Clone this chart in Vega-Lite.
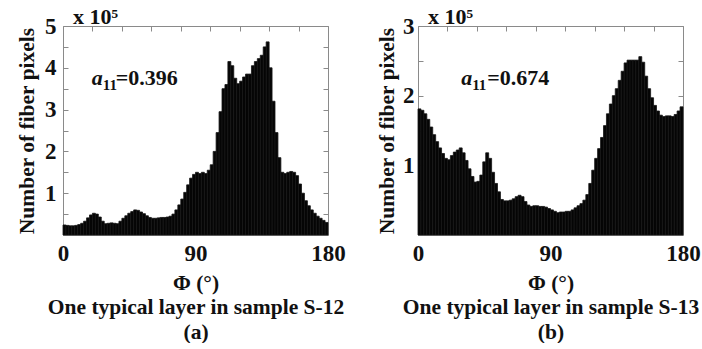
{
  "$schema": "https://vega.github.io/schema/vega-lite/v6.json",
  "background": "white",
  "padding": {"left": 16, "top": 5, "right": 0, "bottom": 0},
  "spacing": 30,
  "config": {
    "view": {"stroke": "#8a8a8a", "strokeWidth": 1},
    "axis": {"grid": false, "domain": false, "tickColor": "#8a8a8a", "tickWidth": 1, "labelFont": "Liberation Serif", "labelFontWeight": "bold", "labelFontSize": 23, "labelColor": "#111", "titleFont": "Liberation Serif", "titleFontWeight": "bold", "titleFontSize": 21.5, "titleColor": "#111", "labelOverlap": false, "labelFlush": false},
    "title": {"font": "Liberation Serif", "fontWeight": "bold", "fontSize": 22, "color": "#111"},
    "text": {"font": "Liberation Serif", "fontWeight": "bold", "color": "#111"}
  },
  "datasets": {
    "s12": [
      {"p0":0,"p1":2,"n":0.24},{"p0":2,"p1":4,"n":0.23},{"p0":4,"p1":6,"n":0.22},{"p0":6,"p1":8,"n":0.22},{"p0":8,"p1":10,"n":0.23},
      {"p0":10,"p1":12,"n":0.25},{"p0":12,"p1":14,"n":0.28},{"p0":14,"p1":16,"n":0.33},{"p0":16,"p1":18,"n":0.41},{"p0":18,"p1":20,"n":0.48},
      {"p0":20,"p1":22,"n":0.52},{"p0":22,"p1":24,"n":0.50},{"p0":24,"p1":26,"n":0.43},{"p0":26,"p1":28,"n":0.33},{"p0":28,"p1":30,"n":0.27},
      {"p0":30,"p1":32,"n":0.28},{"p0":32,"p1":34,"n":0.29},{"p0":34,"p1":36,"n":0.28},{"p0":36,"p1":38,"n":0.27},{"p0":38,"p1":40,"n":0.33},
      {"p0":40,"p1":42,"n":0.40},{"p0":42,"p1":44,"n":0.46},{"p0":44,"p1":46,"n":0.52},{"p0":46,"p1":48,"n":0.56},{"p0":48,"p1":50,"n":0.60},
      {"p0":50,"p1":52,"n":0.59},{"p0":52,"p1":54,"n":0.55},{"p0":54,"p1":56,"n":0.51},{"p0":56,"p1":58,"n":0.46},{"p0":58,"p1":60,"n":0.42},
      {"p0":60,"p1":62,"n":0.40},{"p0":62,"p1":64,"n":0.40},{"p0":64,"p1":66,"n":0.41},{"p0":66,"p1":68,"n":0.42},{"p0":68,"p1":70,"n":0.42},
      {"p0":70,"p1":72,"n":0.43},{"p0":72,"p1":74,"n":0.45},{"p0":74,"p1":76,"n":0.50},{"p0":76,"p1":78,"n":0.60},{"p0":78,"p1":80,"n":0.72},
      {"p0":80,"p1":82,"n":0.86},{"p0":82,"p1":84,"n":1.02},{"p0":84,"p1":86,"n":1.20},{"p0":86,"p1":88,"n":1.36},{"p0":88,"p1":90,"n":1.45},
      {"p0":90,"p1":92,"n":1.50},{"p0":92,"p1":94,"n":1.47},{"p0":94,"p1":96,"n":1.50},{"p0":96,"p1":98,"n":1.47},{"p0":98,"p1":100,"n":1.55},
      {"p0":100,"p1":102,"n":1.68},{"p0":102,"p1":104,"n":2.00},{"p0":104,"p1":106,"n":2.45},{"p0":106,"p1":108,"n":2.95},{"p0":108,"p1":110,"n":3.50},
      {"p0":110,"p1":112,"n":3.60},{"p0":112,"p1":114,"n":4.15},{"p0":114,"p1":116,"n":4.05},{"p0":116,"p1":118,"n":3.75},{"p0":118,"p1":120,"n":3.62},
      {"p0":120,"p1":122,"n":3.68},{"p0":122,"p1":124,"n":3.78},{"p0":124,"p1":126,"n":3.85},{"p0":126,"p1":128,"n":3.85},{"p0":128,"p1":130,"n":4.05},
      {"p0":130,"p1":132,"n":4.15},{"p0":132,"p1":134,"n":4.22},{"p0":134,"p1":136,"n":4.30},{"p0":136,"p1":138,"n":4.50},{"p0":138,"p1":140,"n":4.62},
      {"p0":140,"p1":142,"n":4.00},{"p0":142,"p1":144,"n":3.20},{"p0":144,"p1":146,"n":2.45},{"p0":146,"p1":148,"n":1.85},{"p0":148,"p1":150,"n":1.50},
      {"p0":150,"p1":152,"n":1.47},{"p0":152,"p1":154,"n":1.50},{"p0":154,"p1":156,"n":1.52},{"p0":156,"p1":158,"n":1.50},{"p0":158,"p1":160,"n":1.42},
      {"p0":160,"p1":162,"n":1.22},{"p0":162,"p1":164,"n":1.00},{"p0":164,"p1":166,"n":0.82},{"p0":166,"p1":168,"n":0.70},{"p0":168,"p1":170,"n":0.60},
      {"p0":170,"p1":172,"n":0.52},{"p0":172,"p1":174,"n":0.45},{"p0":174,"p1":176,"n":0.40},{"p0":176,"p1":178,"n":0.35},{"p0":178,"p1":180,"n":0.30}
    ],
    "s13": [
      {"p0":0,"p1":2,"n":1.81},{"p0":2,"p1":4,"n":1.79},{"p0":4,"p1":6,"n":1.74},{"p0":6,"p1":8,"n":1.66},{"p0":8,"p1":10,"n":1.55},
      {"p0":10,"p1":12,"n":1.44},{"p0":12,"p1":14,"n":1.34},{"p0":14,"p1":16,"n":1.25},{"p0":16,"p1":18,"n":1.17},{"p0":18,"p1":20,"n":1.10},
      {"p0":20,"p1":22,"n":1.08},{"p0":22,"p1":24,"n":1.14},{"p0":24,"p1":26,"n":1.19},{"p0":26,"p1":28,"n":1.22},{"p0":28,"p1":30,"n":1.25},
      {"p0":30,"p1":32,"n":1.18},{"p0":32,"p1":34,"n":1.07},{"p0":34,"p1":36,"n":0.95},{"p0":36,"p1":38,"n":0.84},{"p0":38,"p1":40,"n":0.76},
      {"p0":40,"p1":42,"n":0.77},{"p0":42,"p1":44,"n":0.86},{"p0":44,"p1":46,"n":1.05},{"p0":46,"p1":48,"n":1.18},{"p0":48,"p1":50,"n":1.10},
      {"p0":50,"p1":52,"n":0.90},{"p0":52,"p1":54,"n":0.74},{"p0":54,"p1":56,"n":0.62},{"p0":56,"p1":58,"n":0.51},{"p0":58,"p1":60,"n":0.49},
      {"p0":60,"p1":62,"n":0.49},{"p0":62,"p1":64,"n":0.50},{"p0":64,"p1":66,"n":0.52},{"p0":66,"p1":68,"n":0.55},{"p0":68,"p1":70,"n":0.57},
      {"p0":70,"p1":72,"n":0.55},{"p0":72,"p1":74,"n":0.48},{"p0":74,"p1":76,"n":0.43},{"p0":76,"p1":78,"n":0.41},{"p0":78,"p1":80,"n":0.42},
      {"p0":80,"p1":82,"n":0.42},{"p0":82,"p1":84,"n":0.41},{"p0":84,"p1":86,"n":0.41},{"p0":86,"p1":88,"n":0.40},{"p0":88,"p1":90,"n":0.38},
      {"p0":90,"p1":92,"n":0.36},{"p0":92,"p1":94,"n":0.34},{"p0":94,"p1":96,"n":0.32},{"p0":96,"p1":98,"n":0.33},{"p0":98,"p1":100,"n":0.33},
      {"p0":100,"p1":102,"n":0.34},{"p0":102,"p1":104,"n":0.34},{"p0":104,"p1":106,"n":0.36},{"p0":106,"p1":108,"n":0.39},{"p0":108,"p1":110,"n":0.42},
      {"p0":110,"p1":112,"n":0.45},{"p0":112,"p1":114,"n":0.50},{"p0":114,"p1":116,"n":0.58},{"p0":116,"p1":118,"n":0.74},{"p0":118,"p1":120,"n":0.93},
      {"p0":120,"p1":122,"n":1.10},{"p0":122,"p1":124,"n":1.24},{"p0":124,"p1":126,"n":1.40},{"p0":126,"p1":128,"n":1.57},{"p0":128,"p1":130,"n":1.74},
      {"p0":130,"p1":132,"n":1.88},{"p0":132,"p1":134,"n":2.00},{"p0":134,"p1":136,"n":2.10},{"p0":136,"p1":138,"n":2.22},{"p0":138,"p1":140,"n":2.35},
      {"p0":140,"p1":142,"n":2.47},{"p0":142,"p1":144,"n":2.51},{"p0":144,"p1":146,"n":2.51},{"p0":146,"p1":148,"n":2.51},{"p0":148,"p1":150,"n":2.51},
      {"p0":150,"p1":152,"n":2.56},{"p0":152,"p1":154,"n":2.48},{"p0":154,"p1":156,"n":2.28},{"p0":156,"p1":158,"n":2.10},{"p0":158,"p1":160,"n":1.97},
      {"p0":160,"p1":162,"n":1.86},{"p0":162,"p1":164,"n":1.78},{"p0":164,"p1":166,"n":1.72},{"p0":166,"p1":168,"n":1.70},{"p0":168,"p1":170,"n":1.71},
      {"p0":170,"p1":172,"n":1.71},{"p0":172,"p1":174,"n":1.70},{"p0":174,"p1":176,"n":1.73},{"p0":176,"p1":178,"n":1.78},{"p0":178,"p1":180,"n":1.84}
    ]
  },
  "hconcat": [
    {
      "width": 265, "height": 209,
      "title": {"text": "x 10⁵", "anchor": "start", "frame": "group", "dx": 10, "offset": -14},
      "layer": [
        {
          "data": {"name": "s12"},
          "mark": {"type": "rect", "fill": "#050505", "stroke": "#151515", "strokeWidth": 0.8},
          "encoding": {
            "x": {"field": "p0", "type": "quantitative", "scale": {"domain": [0, 180], "nice": false},
              "axis": {"orient": "bottom", "values": [0, 90, 180], "ticks": false, "labelPadding": 7, "titlePadding": 7, "titleLineHeight": 24.5, "titleFontSize": 21.5, "titleFont": "Liberation Serif",
                "title": ["Φ (°)", "One typical layer in sample S-12", "(a)"]}},
            "x2": {"field": "p1"},
            "y": {"field": "n", "type": "quantitative", "scale": {"domain": [0, 5], "nice": false},
              "axis": {"orient": "left", "values": [0,0.5,1,1.5,2,2.5,3,3.5,4,4.5,5], "tickSize": -5, "labelPadding": 12, "titleFont": "Liberation Serif",
                "labelExpr": "datum.value % 1 === 0 && datum.value > 0 ? '' + datum.value : ''", "titlePadding": 6, "title": "Number of fiber pixels"}}
          }
        },
        {
          "data": {"values": [{"ax": 27, "ex": 35.8, "y": 3.6, "a": "a", "s": "11", "t": "=0.396"}]},
          "mark": {"type": "text", "fontStyle": "italic", "fontSize": 22, "align": "right", "baseline": "alphabetic"},
          "encoding": {
            "x": {"field": "ax", "type": "quantitative", "axis": {"orient": "top", "values": [0,20,40,60,80,100,120,140,160,180], "labels": false, "tickSize": -5, "title": null}},
            "y": {"field": "y", "type": "quantitative", "axis": {"orient": "right", "values": [0,0.5,1,1.5,2,2.5,3,3.5,4,4.5,5], "labels": false, "tickSize": -5, "title": null}},
            "text": {"field": "a"}
          }
        },
        {
          "data": {"values": [{"ax": 27, "ex": 35.8, "y": 3.6, "a": "a", "s": "11", "t": "=0.396"}]},
          "mark": {"type": "text", "fontSize": 15, "align": "left", "baseline": "alphabetic", "dy": 5},
          "encoding": {
            "x": {"field": "ax", "type": "quantitative", "axis": null},
            "y": {"field": "y", "type": "quantitative", "axis": null},
            "text": {"field": "s"}
          }
        },
        {
          "data": {"values": [{"ax": 27, "ex": 35.8, "y": 3.6, "a": "a", "s": "11", "t": "=0.396"}]},
          "mark": {"type": "text", "fontSize": 22, "align": "left", "baseline": "alphabetic"},
          "encoding": {
            "x": {"field": "ex", "type": "quantitative", "axis": null},
            "y": {"field": "y", "type": "quantitative", "axis": null},
            "text": {"field": "t"}
          }
        }
      ],
      "resolve": {"axis": {"x": "independent", "y": "independent"}}
    },
    {
      "width": 265, "height": 209,
      "title": {"text": "x 10⁵", "anchor": "start", "frame": "group", "dx": 10, "offset": -14},
      "layer": [
        {
          "data": {"name": "s13"},
          "mark": {"type": "rect", "fill": "#050505", "stroke": "#151515", "strokeWidth": 0.8},
          "encoding": {
            "x": {"field": "p0", "type": "quantitative", "scale": {"domain": [0, 180], "nice": false},
              "axis": {"orient": "bottom", "values": [0, 90, 180], "ticks": false, "labelPadding": 7, "titlePadding": 7, "titleLineHeight": 24.5, "titleFontSize": 21.5, "titleFont": "Liberation Serif",
                "title": ["Φ (°)", "One typical layer in sample S-13", "(b)"]}},
            "x2": {"field": "p1"},
            "y": {"field": "n", "type": "quantitative", "scale": {"domain": [0, 3], "nice": false},
              "axis": {"orient": "left", "values": [0,0.5,1,1.5,2,2.5,3], "tickSize": -5, "labelPadding": 9, "titleFont": "Liberation Serif",
                "labelExpr": "datum.value % 1 === 0 && datum.value > 0 ? '' + datum.value : ''", "titlePadding": 4, "title": "Number of fiber pixels"}}
          }
        },
        {
          "data": {"values": [{"ax": 36.8, "ex": 47, "y": 2.16, "a": "a", "s": "11", "t": "=0.674"}]},
          "mark": {"type": "text", "fontStyle": "italic", "fontSize": 22, "align": "right", "baseline": "alphabetic"},
          "encoding": {
            "x": {"field": "ax", "type": "quantitative", "axis": {"orient": "top", "values": [0,20,40,60,80,100,120,140,160,180], "labels": false, "tickSize": -5, "title": null}},
            "y": {"field": "y", "type": "quantitative", "axis": {"orient": "right", "values": [0,0.5,1,1.5,2,2.5,3], "labels": false, "tickSize": -5, "title": null}},
            "text": {"field": "a"}
          }
        },
        {
          "data": {"values": [{"ax": 36.8, "ex": 47, "y": 2.16, "a": "a", "s": "11", "t": "=0.674"}]},
          "mark": {"type": "text", "fontSize": 15, "align": "left", "baseline": "alphabetic", "dy": 5},
          "encoding": {
            "x": {"field": "ax", "type": "quantitative", "axis": null},
            "y": {"field": "y", "type": "quantitative", "axis": null},
            "text": {"field": "s"}
          }
        },
        {
          "data": {"values": [{"ax": 36.8, "ex": 47, "y": 2.16, "a": "a", "s": "11", "t": "=0.674"}]},
          "mark": {"type": "text", "fontSize": 22, "align": "left", "baseline": "alphabetic"},
          "encoding": {
            "x": {"field": "ex", "type": "quantitative", "axis": null},
            "y": {"field": "y", "type": "quantitative", "axis": null},
            "text": {"field": "t"}
          }
        }
      ],
      "resolve": {"axis": {"x": "independent", "y": "independent"}}
    }
  ]
}
